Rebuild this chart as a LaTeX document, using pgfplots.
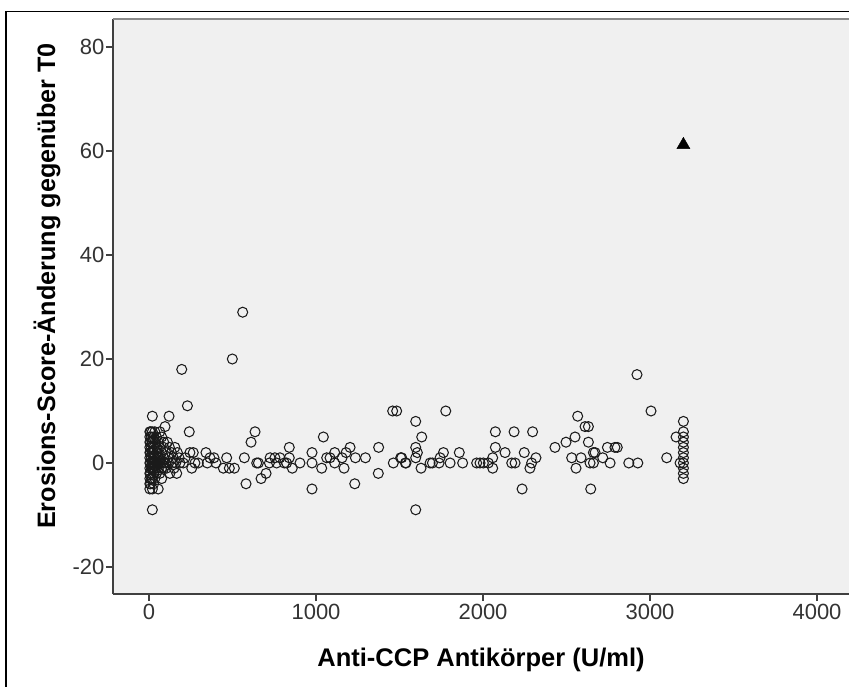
\documentclass[border=0pt]{standalone}
\usepackage{pgfplots}
\pgfplotsset{compat=1.18}
\usepackage{fontspec}
\setmainfont{Liberation Sans}
\definecolor{bg}{HTML}{F0F0F0}
\definecolor{axisgray}{HTML}{404040}
\definecolor{topgray}{HTML}{8A8A8A}
\definecolor{labgray}{HTML}{333333}
\definecolor{ringgray}{HTML}{1A1A1A}
\begin{document}
\begin{tikzpicture}[x=1pt,y=1pt]
\useasboundingbox (0,0) rectangle (849,686);
\draw[line width=1.8pt,black] (6,-5) -- (6,674.5) -- (860,674.5);
\begin{axis}[
  at={(113pt,92pt)}, anchor=south west,
  scale only axis, width=736pt, height=575pt,
  xmin=-215.6, xmax=4191.6, ymin=-25.2, ymax=85.4,
  axis x line*=bottom, axis y line*=left,
  axis line style={line width=1.3pt, color=axisgray, -},
  axis background/.style={fill=bg},
  xtick={0,1000,2000,3000,4000},
  ytick={-20,0,20,40,60,80},
  minor tick num=0,
  tick align=outside, major tick length=7pt,
  tick style={line width=1.3pt, color=axisgray},
  tick label style={font=\fontsize{22}{26}\selectfont, text=labgray},
  yticklabel style={xshift=2pt},
  /pgf/number format/assume math mode=true,
  /pgf/number format/1000 sep={},
  xlabel={\textbf{Anti-CCP Antikörper (U/ml)}},
  ylabel={\textbf{Erosions-Score-Änderung gegenüber T0}},
  xlabel style={font=\fontsize{25.5}{30}\selectfont, at={(axis description cs:0.5,-0.1148)}, anchor=center},
  ylabel style={font=\fontsize{25.2}{30}\selectfont, at={(axis description cs:-0.0897,0.5357)}, anchor=center, rotate=0},
  clip=false,
]
\draw[line width=2pt, color=topgray] (rel axis cs:0,1) -- (rel axis cs:1.02,1);
\addplot[only marks, mark=o, mark size=5pt, mark options={line width=1.05pt, draw=ringgray}] coordinates {
(5,6)(5,5)(5,4)(5,3)(5,2)(5,1)(5,0)(5,-1)(5,-2)(5,-3)(5,-4)(5,-5)
(10,6)(10,4)(10,2)(10,0)(10,-2)(10,-4)
(15,5)(15,3)(15,1)(15,-1)(15,-3)
(20,9)(20,6)(20,4)(20,2)(20,0)(20,-1)(20,-3)(20,-5)(20,-9)
(28,5)(28,3)(28,2)(28,1)(28,0)(28,-1)(28,-2)(28,-4)
(35,6)(35,4)(35,1)(35,0)(35,-1)(35,-3)
(45,5)(45,3)(45,2)(45,0)(45,-1)(45,-2)
(55,4)(55,2)(55,1)(55,0)(55,-1)(55,-5)
(65,6)(65,3)(65,1)(65,0)(65,-2)
(76,5)(76,2)(76,0)(76,-1)(76,-3)
(88,4)(88,3)(88,1)(88,0)(88,-1)
(96,7)(100,2)(100,0)(105,-1)
(110,4)(115,1)(118,0)(120,9)(122,3)(125,-2)
(135,2)(140,0)(145,1)(150,-1)(155,3)(160,0)(166,-2)(170,2)(180,1)(185,0)
(205,0)(216,1)(230,11)(241,6)(245,2)(256,-1)(265,2)(275,0)(295,0)(341,2)(349,0)(365,1)(389,1)(401,0)(445,-1)(465,1)(481,-1)(511,-1)
(196,18)(499,20)(561,29)(571,1)(581,-4)(611,4)(635,6)(645,0)(655,0)(671,-3)(701,-2)(721,0)(725,1)(754,1)(764,0)(784,1)(810,0)(824,0)(840,1)(840,3)(858,-1)(904,0)(976,2)(976,0)(976,-5)(1034,-1)(1044,5)(1064,1)(1084,1)(1112,2)(1112,0)(1156,1)(1168,-1)(1180,2)(1204,3)(1232,-4)(1236,1)(1296,1)(1373,-2)(1375,3)(1459,10)(1483,10)(1463,0)(1507,1)(1513,1)(1535,0)(1539,0)(1597,8)(1633,5)(1597,3)(1607,2)(1597,1)(1629,-1)(1597,-9)(1683,0)(1697,0)(1737,0)(1743,1)(1763,2)(1777,10)(1803,0)(1858,2)(1878,0)(1962,0)(1982,0)(2002,0)(2032,0)(2058,1)(2058,-1)(2074,3)(2074,6)(2132,2)(2172,0)(2186,6)(2192,0)(2234,-5)(2247,2)(2281,-1)(2291,0)(2297,6)(2317,1)(2431,3)(2497,4)(2531,1)(2551,5)(2557,-1)(2567,9)(2587,1)(2611,7)(2631,7)(2631,4)(2641,0)(2645,-5)(2661,0)(2661,2)(2671,2)(2717,1)(2745,3)(2761,0)(2790,3)(2804,3)(2873,0)(2922,17)(2927,0)(3006,10)(3100,1)(3156,5)(3180,0)
(3200,8)(3200,6)(3200,5)(3200,4)(3200,3)(3200,2)(3200,1)(3200,0)(3200,-1)(3200,-2)(3200,-3)
};
\addplot[only marks, mark=triangle*, mark size=7.5pt, mark options={fill=black, draw=black}] coordinates {(3200,61.2)};
\end{axis}
\end{tikzpicture}
\end{document}
